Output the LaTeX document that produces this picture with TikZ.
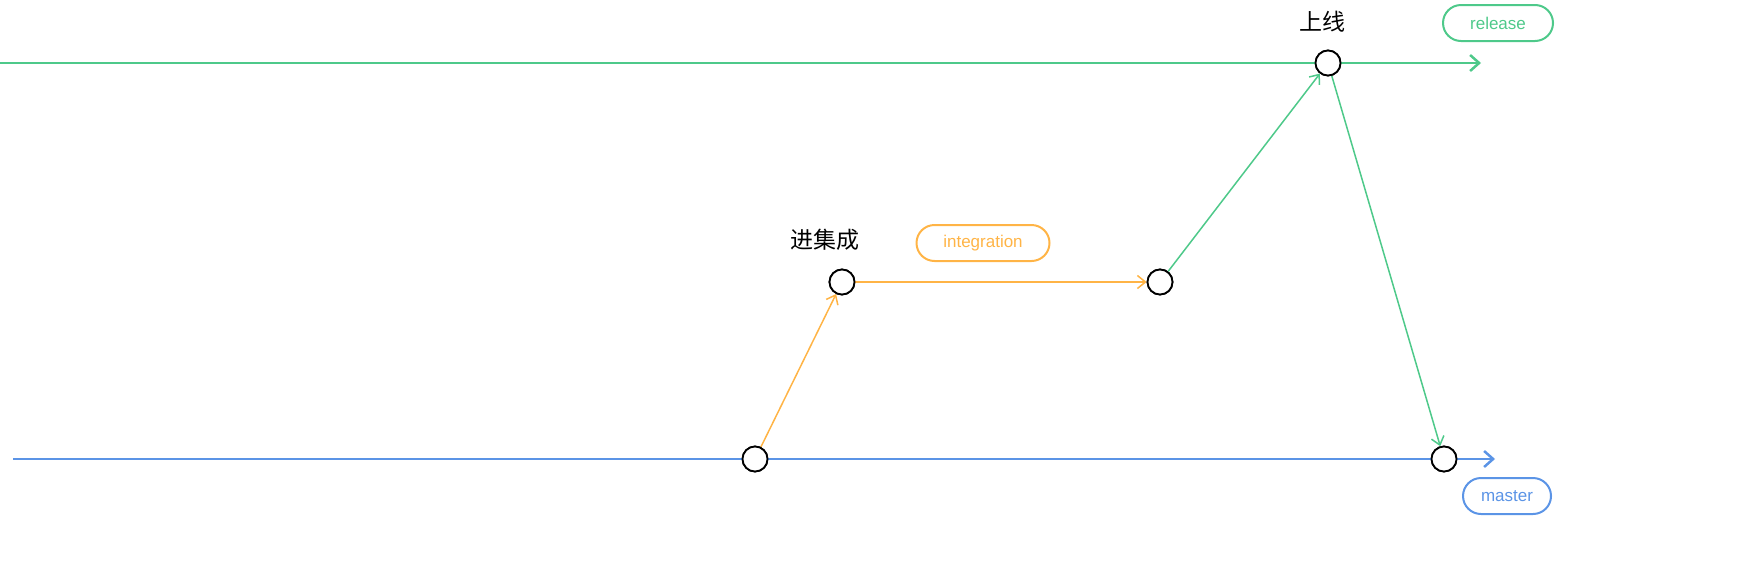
\documentclass[tikz,border=0pt]{standalone}
\usepackage{fontspec}
\setmainfont{Liberation Sans}
\newfontfamily\cjk{Noto Sans CJK SC}
\usetikzlibrary{arrows.meta}
\definecolor{relg}{RGB}{78,201,138}
\definecolor{mstb}{RGB}{91,148,230}
\definecolor{intg}{RGB}{255,180,70}
\tikzset{
  commit/.style={circle,draw=black,line width=1.8pt,fill=white,minimum size=25pt,inner sep=0pt},
  mainline/.style={line width=2.5pt},
  mainend/.style={line width=2.5pt,-{Straight Barb[length=9pt,width=16pt,line width=2.5pt]}},
  flow/.style={line width=1.5pt,-{Straight Barb[length=8pt,width=13pt,line width=1.5pt]}},
  pill/.style={rounded corners=18pt,draw,line width=2pt,minimum width=#1,minimum height=36pt,inner sep=0pt,font=\fontsize{17}{20}\selectfont},
  cn/.style={font=\cjk\fontsize{23}{26}\selectfont,text=black}
}
\begin{document}
\begin{tikzpicture}[x=1pt,y=-1pt]
\useasboundingbox (0,0) rectangle (1742,576);
% branch ends
\coordinate (rs) at (0,63);
\coordinate (re) at (1481,63);
\coordinate (ms) at (13,459);
\coordinate (me) at (1495,459);
% commits
\node[commit] (r1) at (1328,63) {};
\node[commit] (m1) at (755,459) {};
\node[commit] (m2) at (1444,459) {};
\node[commit] (i1) at (842,282) {};
\node[commit] (i2) at (1160,282) {};
% main lines
\draw[mainline,relg] (rs) -- (r1);
\draw[mainend,relg] (r1) -- (re);
\draw[mainline,mstb] (ms) -- (m1);
\draw[mainline,mstb] (m1) -- (m2);
\draw[mainend,mstb] (m2) -- (me);
% flows
\draw[flow,intg] (m1) -- (i1);
\draw[flow,intg] (i1) -- (i2);
\draw[flow,relg] (i2) -- (r1);
\draw[flow,relg] (r1) -- (m2);
% redraw commits on top
\node[commit] at (1328,63) {};
\node[commit] at (755,459) {};
\node[commit] at (1444,459) {};
\node[commit] at (842,282) {};
\node[commit] at (1160,282) {};
% labels
\node[pill=110pt,draw=relg,text=relg] (lr) at (1498,23) {release};
\node[pill=88pt,draw=mstb,text=mstb] (lm) at (1507,496) {master};
\node[pill=133pt,draw=intg,text=intg] (li) at (983,243) {integration};
\node[cn] (t1) at (1322,22) {上线};
\node[cn] (t2) at (825,240) {进集成};
\end{tikzpicture}
\end{document}
